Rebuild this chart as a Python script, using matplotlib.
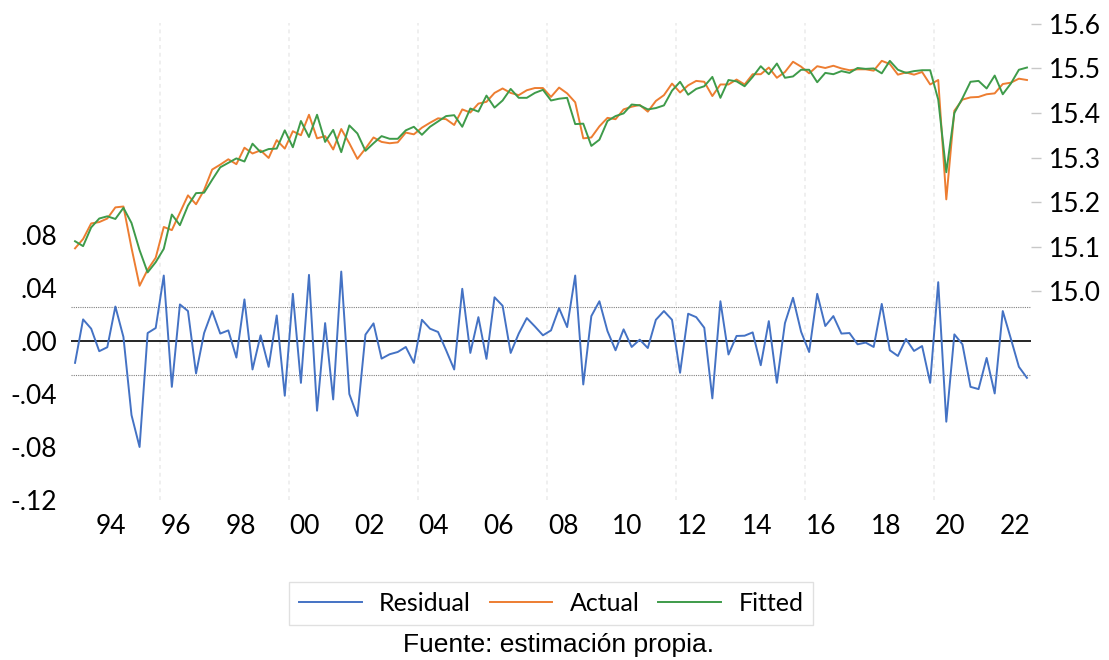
import numpy as np
import pandas as pd
import matplotlib
matplotlib.use("Agg")
import matplotlib.pyplot as plt

# Trimestres 1993Q2 - 2022Q4
quarters = pd.period_range("1993Q2", "2022Q4", freq="Q")

residual = [
    -0.0165, 0.0163, 0.0093, -0.0077, -0.0047, 0.026, 0.003, -0.0559, -0.080, 0.006,
    0.0098, 0.0494, -0.0346, 0.0276, 0.0226, -0.0245, 0.006, 0.0226, 0.0056, 0.008,
    -0.0125, 0.0314, -0.0215, 0.0043, -0.0195, 0.0193, -0.0413, 0.0356, -0.0316, 0.0499,
    -0.0526, 0.0135, -0.0441, 0.0524, -0.040, -0.0566, 0.0048, 0.0133, -0.0133, -0.010,
    -0.0083, -0.0045, -0.0165, 0.016, 0.0093, 0.0068, -0.007, -0.0215, 0.0394, -0.009,
    0.018, -0.0135, 0.033, 0.0266, -0.009, 0.0056, 0.0173, 0.011, 0.0043, 0.008,
    0.0248, 0.0105, 0.0494, -0.0328, 0.0188, 0.030, 0.0075, -0.007, 0.0088, -0.0045,
    0.001, -0.0053, 0.016, 0.0226, 0.016, -0.024, 0.0206, 0.018, 0.010, -0.0433,
    0.030, -0.0102, 0.0038, 0.004, 0.0065, -0.0183, 0.015, -0.0316, 0.0135, 0.0326,
    0.007, -0.0083, 0.0356, 0.0113, 0.0188, 0.0056, 0.006, -0.0025, -0.0012, -0.0045,
    0.028, -0.007, -0.0113, 0.0015, -0.0075, -0.0038, -0.0316, 0.0444, -0.0609, 0.005,
    -0.0025, -0.0346, -0.0363, -0.0128, -0.0396, 0.0226, 0.0018, -0.0195, -0.0278,
]

actual = [
    15.096, 15.117, 15.152, 15.155, 15.163, 15.188, 15.190, 15.097, 15.012, 15.048,
    15.075, 15.144, 15.137, 15.176, 15.215, 15.195, 15.227, 15.273, 15.284, 15.296,
    15.285, 15.322, 15.309, 15.316, 15.299, 15.339, 15.320, 15.359, 15.350, 15.396,
    15.343, 15.348, 15.318, 15.364, 15.332, 15.297, 15.320, 15.345, 15.335, 15.332,
    15.334, 15.356, 15.352, 15.367, 15.378, 15.388, 15.386, 15.373, 15.408, 15.401,
    15.421, 15.425, 15.445, 15.455, 15.445, 15.440, 15.451, 15.456, 15.456, 15.436,
    15.457, 15.444, 15.424, 15.343, 15.345, 15.370, 15.389, 15.386, 15.408, 15.414,
    15.418, 15.403, 15.427, 15.440, 15.466, 15.446, 15.462, 15.472, 15.470, 15.438,
    15.464, 15.464, 15.475, 15.464, 15.487, 15.487, 15.502, 15.479, 15.492, 15.515,
    15.504, 15.489, 15.505, 15.501, 15.506, 15.500, 15.496, 15.498, 15.498, 15.495,
    15.517, 15.510, 15.486, 15.491, 15.486, 15.492, 15.464, 15.474, 15.206, 15.405,
    15.430, 15.435, 15.436, 15.442, 15.444, 15.465, 15.468, 15.477, 15.474,
]

fitted = [
    15.112, 15.101, 15.143, 15.163, 15.168, 15.162, 15.187, 15.153, 15.092, 15.042,
    15.065, 15.095, 15.172, 15.148, 15.192, 15.220, 15.221, 15.250, 15.278, 15.288,
    15.298, 15.291, 15.331, 15.312, 15.319, 15.320, 15.361, 15.323, 15.382, 15.346,
    15.396, 15.335, 15.362, 15.312, 15.372, 15.354, 15.315, 15.332, 15.348, 15.342,
    15.342, 15.361, 15.369, 15.351, 15.369, 15.381, 15.393, 15.395, 15.369, 15.410,
    15.403, 15.439, 15.412, 15.428, 15.454, 15.434, 15.434, 15.445, 15.452, 15.428,
    15.432, 15.434, 15.375, 15.376, 15.326, 15.340, 15.382, 15.393, 15.399, 15.419,
    15.417, 15.408, 15.411, 15.417, 15.450, 15.470, 15.441, 15.454, 15.460, 15.481,
    15.434, 15.474, 15.471, 15.460, 15.481, 15.505, 15.487, 15.511, 15.479, 15.482,
    15.497, 15.497, 15.469, 15.490, 15.487, 15.494, 15.490, 15.501, 15.499, 15.500,
    15.489, 15.517, 15.497, 15.490, 15.494, 15.496, 15.496, 15.430, 15.267, 15.400,
    15.433, 15.470, 15.472, 15.455, 15.484, 15.442, 15.466, 15.497, 15.502,
]

std_err = 0.0255  # banda +/- 1 error estandar

left_ticks = [-0.12, -0.08, -0.04, 0.00, 0.04, 0.08]
left_labels = ["-.12", "-.08", "-.04", ".00", ".04", ".08"]
right_ticks = [15.0, 15.1, 15.2, 15.3, 15.4, 15.5, 15.6]
year_labels = ["94", "96", "98", "00", "02", "04", "06", "08", "10", "12", "14", "16", "18", "20", "22"]
label_years = [1994, 1996, 1998, 2000, 2002, 2004, 2006, 2008, 2010, 2012, 2014, 2016, 2018, 2020, 2022]
grid_years = [1996, 2000, 2004, 2008, 2012, 2016, 2020]

# posicion en el medio de cada trimestre
t = quarters.year + (quarters.quarter - 0.5) / 4.0

plt.rcParams["font.family"] = ["Lato", "DejaVu Sans"]

fig = plt.figure(figsize=(11.09, 6.6), dpi=100)
ax = fig.add_axes([71 / 1109, 1 - 500 / 660, 960 / 1109, 477 / 660])
ax2 = ax.twinx()

# panel de residuos (eje izquierdo)
for g in grid_years:
    ax.axvline(g, color="#efefef", lw=1.4, ls=(0, (2, 2)), zorder=0)
ax.axhline(0, color="black", lw=1.2, zorder=1)
ax.axhline(std_err, color="#808080", lw=0.8, ls=(0, (1, 1)), zorder=1)
ax.axhline(-std_err, color="#808080", lw=0.8, ls=(0, (1, 1)), zorder=1)
l1, = ax.plot(t, residual, color="#4472c4", lw=1.4, label="Residual", zorder=3)

ax.set_xlim(1993.25, 2023.0)
ax.set_ylim(-0.12, 0.24)
ax.set_yticks(left_ticks)
ax.set_yticklabels(left_labels)
ax.set_xticks([y + 0.5 for y in label_years])
ax.set_xticklabels(year_labels)
ax.tick_params(axis="y", length=0, pad=10, labelsize=19)
ax.tick_params(axis="x", length=0, pad=10, labelsize=19)

# actual y fitted (eje derecho)
l2, = ax2.plot(t, actual, color="#ed7d31", lw=1.4, label="Actual", zorder=3)
l3, = ax2.plot(t, fitted, color="#3e9b4a", lw=1.4, label="Fitted", zorder=3)
ax2.set_ylim(14.531, 15.602)
ax2.set_yticks(right_ticks)
ax2.set_yticklabels(["%.1f" % v for v in right_ticks])
ax2.tick_params(axis="y", length=7, width=1, color="#c8c8c8", pad=6, labelsize=19)

for a in (ax, ax2):
    for s in a.spines.values():
        s.set_visible(False)

fig.legend(handles=[l1, l2, l3], loc="center", bbox_to_anchor=(0.497, 0.086),
           ncol=3, frameon=True, fancybox=False, edgecolor="#d9d9d9",
           fontsize=18, handlelength=2.5, handletextpad=0.7, columnspacing=0.75,
           borderpad=0.4)

fig.text(0.504, 0.022, "Fuente: estimación propia.", ha="center", va="center",
         fontsize=19, family="Liberation Sans")

fig.savefig("out.png", dpi=100)
